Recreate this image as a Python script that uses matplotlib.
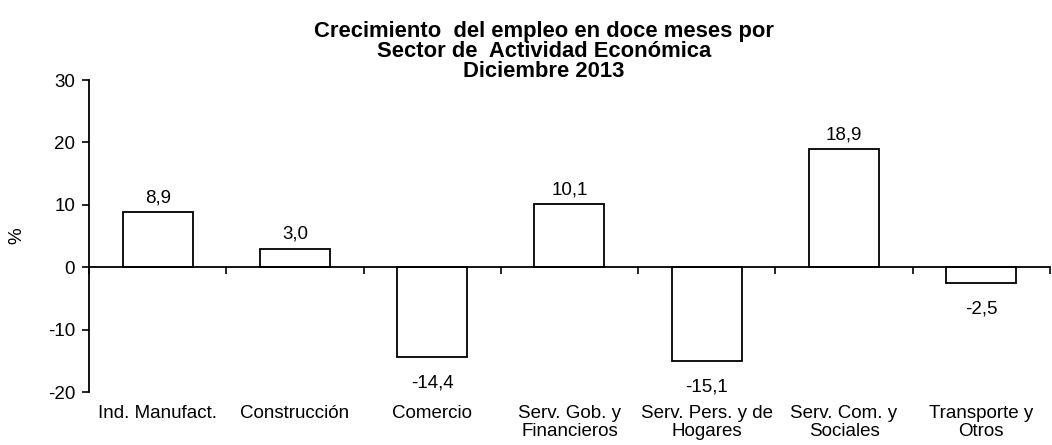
import numpy as np
import matplotlib.pyplot as plt

plt.rcParams["font.family"] = ["Liberation Sans", "DejaVu Sans"]
plt.rcParams["axes.unicode_minus"] = False

categories = ["Ind. Manufact.", "Construcción", "Comercio", "Serv. Gob. y\nFinancieros",
              "Serv. Pers. y de\nHogares", "Serv. Com. y\nSociales", "Transporte y\nOtros"]
values = [8.9, 3.0, -14.4, 10.1, -15.1, 18.9, -2.5]
yticks = [-20, -10, 0, 10, 20, 30]

x = np.arange(len(categories))

fig = plt.figure(figsize=(10.52, 4.45), dpi=100)
ax = fig.add_axes([0.0846, 0.119, 0.9134, 0.701])

ax.bar(x, values, width=0.51, color="white", edgecolor="black", linewidth=1.3, zorder=2)

for xi, v in zip(x, values):
    label = f"{v:.1f}".replace(".", ",")
    if v >= 0:
        ax.annotate(label, (xi, v), xytext=(0, 4), textcoords="offset points",
                    ha="center", va="bottom", fontsize=13.5)
    else:
        ax.annotate(label, (xi, v), xytext=(0, -12.5), textcoords="offset points",
                    ha="center", va="top", fontsize=13.5)

ax.set_xlim(-0.5, len(categories) - 0.5)
ax.set_ylim(-20, 30)
ax.set_yticks(yticks)
ax.tick_params(axis="y", direction="out", length=5, width=1.2, labelsize=13.5, pad=5)

# zero line with boundary ticks
ax.spines["bottom"].set_position(("data", 0))
ax.spines["bottom"].set_linewidth(1.3)
ax.spines["left"].set_linewidth(1.3)
ax.spines["top"].set_visible(False)
ax.spines["right"].set_visible(False)
ax.set_xticks(np.arange(len(categories) + 1) - 0.5)
ax.set_xticklabels([])
ax.tick_params(axis="x", direction="out", length=5, width=1.2)

# category labels along the bottom
sec = ax.secondary_xaxis(0)
sec.set_xticks(x)
sec.set_xticklabels(categories, fontsize=13.5, linespacing=1.12)
sec.tick_params(axis="x", length=0, pad=9)
sec.spines["bottom"].set_visible(False)

ax.set_ylabel("%", fontsize=13.5, labelpad=16)

fig.suptitle("Crecimiento  del empleo en doce meses por\nSector de  Actividad Económica\nDiciembre 2013",
             x=0.517, y=0.952, va="top", fontsize=15.8, fontweight="bold", linespacing=0.92)

fig.savefig("out.png", dpi=100)
